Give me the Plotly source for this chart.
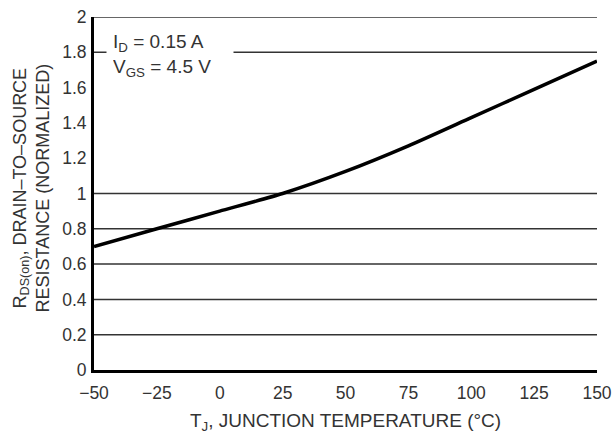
import plotly.graph_objects as go

temps = [-50, -25, 0, 25, 50, 75, 100, 125, 150]
rds_norm = [0.70, 0.80, 0.90, 1.00, 1.125, 1.27, 1.43, 1.59, 1.75]
x_ticks = [-50, -25, 0, 25, 50, 75, 100, 125, 150]
y_ticks = [0, 0.2, 0.4, 0.6, 0.8, 1, 1.2, 1.4, 1.6, 1.8, 2]
y_labels = ["0", "0.2", "0.4", "0.6", "0.8", "1", "1.2", "1.4", "1.6", "1.8", "2"]
grid_values = [0.2, 0.4, 0.6, 0.8, 1.0, 1.8, 2.0]

FONT = "Liberation Sans, Arial, sans-serif"
TXT = "#333333"

fig = go.Figure()

for g in grid_values:
    fig.add_shape(type="line", xref="paper", yref="y", x0=0, x1=1, y0=g, y1=g,
                  line=dict(color="#333333", width=1.5), layer="below")

fig.add_trace(go.Scatter(x=temps, y=rds_norm, mode="lines",
                         line=dict(color="black", width=3.5, shape="spline", smoothing=0.6),
                         showlegend=False))

fig.update_layout(
    width=614, height=434,
    margin=dict(l=94, r=17, t=17, b=64),
    plot_bgcolor="white", paper_bgcolor="white",
    font=dict(family=FONT, color=TXT, size=17.5),
    xaxis=dict(range=[-50, 150], tickvals=x_ticks,
               ticktext=[str(t).replace("-", "\u2212") for t in x_ticks],
               showgrid=False, zeroline=False, showline=True, linecolor="black", linewidth=3,
               ticks="outside", ticklen=5, tickcolor="rgba(0,0,0,0)", automargin=False,
               title=dict(text="T<sub>J</sub>, JUNCTION TEMPERATURE (°C)",
                          font=dict(size=19, color=TXT))),
    yaxis=dict(range=[0, 2], tickvals=y_ticks, ticktext=y_labels,
               showgrid=False, zeroline=False,
               showline=True, linecolor="black", linewidth=3,
               ticks="outside", ticklen=1, tickcolor="rgba(0,0,0,0)", automargin=False),
)

fig.add_annotation(xref="paper", yref="paper", x=0.0, y=0.5, xanchor="center", yanchor="middle",
                   xshift=-63, yshift=5, textangle=-90, showarrow=False,
                   text="R<sub>DS(on)</sub>, DRAIN\u2013TO\u2013SOURCE<br>RESISTANCE (NORMALIZED)",
                   font=dict(size=18, color=TXT))

fig.add_annotation(xref="paper", yref="paper", x=0.0, y=1.0, xanchor="left", yanchor="top",
                   text="I<sub>D</sub> = 0.15 A<br>V<sub>GS</sub> = 4.5 V", showarrow=False,
                   align="left", width=114, bgcolor="white", borderpad=6,
                   xshift=12, yshift=-7,
                   font=dict(size=19, color=TXT))

fig.write_html("out.html")
